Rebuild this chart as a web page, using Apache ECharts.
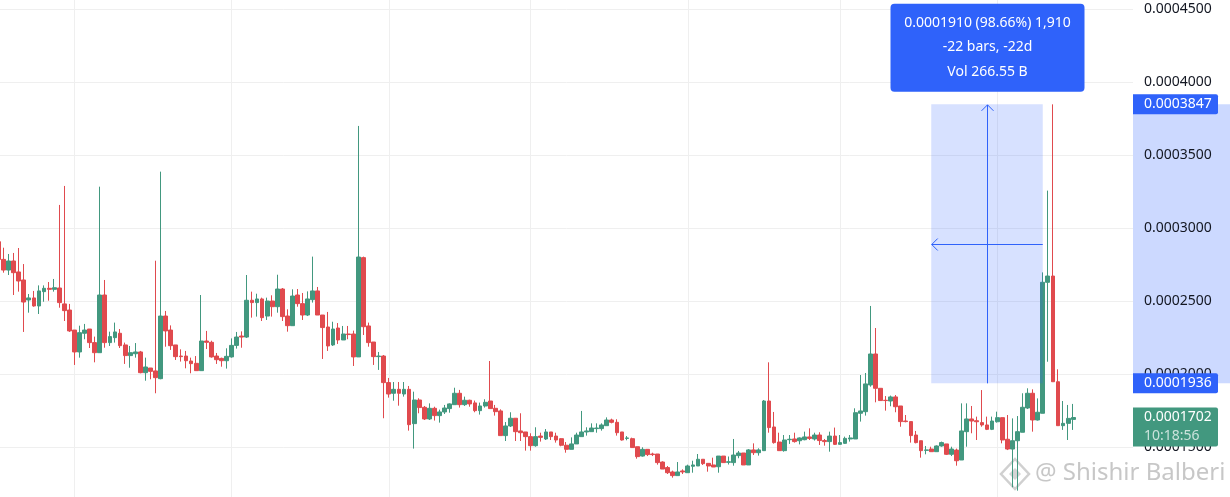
<!DOCTYPE html>
<html>
<head>
<meta charset="utf-8">
<script src="https://cdn.jsdelivr.net/npm/echarts@6/dist/echarts.min.js"></script>
<style>
html,body{margin:0;padding:0;background:#ffffff;}
#chart{width:1230px;height:497px;}
</style>
</head>
<body>
<div id="chart"></div>
<script>
// ---- data (prices in units of 0.0000001) ----
const firstBar = -1; // first (partially visible) daily bar index
const opens = [2906,2785,2712,2774,2699,2644,2507,2521,2466,2564,2587,2580,2589,2480,2438,2301,2151,2279,2308,2215,2146,2541,2215,2249,2279,2199,2126,2139,2151,2009,2041,2021,1968,2397,2301,2199,
2123,2123,2089,2073,2023,2226,2217,2123,2107,2091,2117,2196,2260,2253,2505,2489,2514,2397,2500,2461,2582,2397,2331,2541,2482,2404,2509,2569,2404,2322,2199,2315,2233,2274,2274,2117,2797,
2329,2219,2119,2123,1941,1868,1895,1863,1895,1660,1822,1772,1692,1765,1715,1740,1763,1790,1868,1790,1820,1802,1749,1781,1815,1765,1747,1578,1644,1697,1610,1603,1571,1509,
1575,1555,1603,1575,1557,1512,1484,1521,1571,1603,1605,1626,1626,1646,1685,1669,1603,1559,1557,1502,1438,1484,1452,1452,1397,1359,1329,1304,1336,1324,1368,1370,1416,1388,1377,1365,1438,
1395,1393,1441,1459,1377,1480,1461,1475,1815,1637,1534,1475,1550,1555,1543,1550,1569,1555,1582,1544,1537,1575,1518,1525,1555,1555,1731,1742,1925,2137,1902,1820,1815,1843,1781,1678,1674,
1582,1543,1477,1486,1468,1507,1521,1450,1479,1411,1605,1692,1680,1667,1651,1621,1673,1701,1553,1486,1543,1601,1767,1868,1685,1731,2628,2671,1947,1646,1662,1689];
const closes = [2785,2712,2774,2694,2637,2493,2521,2466,2569,2587,2580,2591,2489,2434,2295,2151,2283,2301,2215,2146,2541,2215,2256,2288,2194,2126,2146,2151,2009,2048,2018,1975,2397,2295,2194,2119,
2119,2091,2071,2023,2226,2217,2117,2098,2091,2121,2196,2253,2253,2505,2489,2514,2386,2500,2461,2582,2393,2331,2534,2482,2404,2514,2569,2404,2318,2192,2308,2233,2274,2270,2117,2801,2324,
2215,2119,2123,1941,1863,1895,1868,1895,1653,1822,1770,1692,1765,1715,1740,1767,1795,1868,1790,1820,1795,1749,1781,1806,1763,1742,1578,1644,1697,1605,1598,1571,1509,1571,
1566,1603,1571,1548,1512,1484,1521,1582,1603,1610,1630,1630,1651,1685,1669,1598,1548,1562,1496,1434,1484,1448,1448,1393,1349,1324,1304,1329,1329,1370,1377,1416,1386,1370,1363,1438,1393,
1399,1445,1459,1377,1480,1461,1480,1815,1633,1530,1475,1548,1553,1537,1562,1569,1559,1582,1544,1537,1575,1518,1530,1559,1562,1735,1747,1932,2137,1902,1818,1818,1843,1776,1674,1674,1578,
1530,1475,1480,1468,1507,1530,1450,1486,1406,1610,1692,1678,1673,1651,1621,1678,1701,1548,1486,1543,1605,1772,1868,1685,1738,2628,2671,1947,1646,1662,1696,1702];
const lows = [2770,2694,2678,2541,2564,2288,2420,2461,2411,2495,2502,2564,2454,2363,2288,2062,2112,2238,2178,2080,2146,2180,2192,2215,2178,2069,2043,2112,2005,1954,1964,1868,1964,2187,2165,2096,
2085,2039,2005,2023,2023,2171,2112,2069,2050,2037,2112,2174,2180,2247,2386,2393,2363,2370,2393,2420,2363,2290,2331,2461,2370,2397,2489,2404,2103,2158,2192,2206,2233,2238,2055,2117,2267,
2187,2062,2028,1697,1838,1817,1783,1845,1612,1489,1731,1685,1685,1681,1667,1726,1735,1790,1770,1781,1776,1738,1722,1770,1763,1715,1578,1541,1637,1541,1541,1475,1475,1502,
1537,1548,1548,1530,1505,1461,1484,1521,1571,1578,1605,1598,1612,1646,1662,1578,1544,1546,1496,1420,1434,1438,1438,1379,1349,1315,1290,1304,1315,1324,1324,1370,1377,1331,1363,1324,1393,
1380,1372,1423,1377,1377,1445,1441,1475,1598,1523,1475,1468,1521,1530,1518,1546,1548,1544,1514,1509,1468,1514,1518,1521,1537,1555,1674,1715,1913,1806,1815,1749,1779,1738,1639,1669,1530,
1525,1427,1450,1468,1468,1502,1445,1438,1372,1411,1502,1594,1548,1639,1616,1616,1667,1525,1479,1224,1201,1601,1760,1605,1681,1731,2084,1947,1646,1617,1548,1617];
const highs = [2930,2865,2822,2829,2863,2753,2548,2569,2607,2607,2630,2651,3158,3288,2480,2301,2331,2343,2308,2256,3283,2644,2290,2352,2308,2215,2192,2212,2158,2112,2041,2776,3386,2432,2333,2199,
2169,2158,2112,2123,2541,2295,2228,2144,2112,2176,2244,2288,2292,2678,2564,2550,2523,2523,2539,2680,2589,2443,2580,2582,2555,2566,2804,2596,2404,2425,2358,2349,2329,2329,2297,3699,2804,
2352,2219,2151,2130,1973,1945,1945,1945,1918,1879,1834,1781,1799,1776,1756,1788,1799,1906,1891,1845,1824,1818,1804,1827,2089,1788,1758,1671,1738,1697,1731,1603,1594,1635,
1598,1623,1603,1598,1560,1534,1566,1598,1747,1635,1662,1662,1662,1703,1694,1690,1603,1575,1564,1502,1498,1484,1461,1452,1402,1370,1338,1397,1347,1379,1406,1452,1416,1388,1427,1438,1438,
1435,1555,1473,1459,1486,1525,1491,1822,2080,1740,1598,1582,1582,1598,1566,1605,1628,1598,1601,1555,1605,1633,1582,1571,1582,1765,1993,2007,2466,2315,1902,1849,1852,1856,1781,1719,1674,
1610,1543,1507,1502,1511,1537,1521,1502,1489,1799,1799,1781,1708,1890,1708,1708,1742,1701,1719,1696,1712,1868,1902,1895,1833,2696,3256,3847,2032,1815,1788,1795];
const PRICE_UNIT = 1e-7;

// month-start bars (vertical grid lines)
const monthStartBars = [14, 45, 76, 104, 135, 165, 196];

// measure tool
const measureFromBar = 183, measureToBar = 205;
const measureHigh = 0.0003847, measureLow = 0.0001936;
const measureText = ['0.0001910 (98.66%) 1,910', '-22 bars, -22d', 'Vol 266.55 B'];

// last price
const lastPrice = 0.0001702;
const countdown = '10:18:56';
const watermark = '@ Shishir Balberi';

// axis range
const xMin = -0.69, xMax = 222.8;
const yMin = 0.0001, yMax = 0.0005, yStep = 0.00005;

const UP = '#42987f', DOWN = '#e04a4e', BLUE = '#2f62fa';
const FONT = 'Noto Sans';

const rows = opens.map((o, k) => [firstBar + k, o * PRICE_UNIT, closes[k] * PRICE_UNIT, lows[k] * PRICE_UNIT, highs[k] * PRICE_UNIT]);

const chart = echarts.init(document.getElementById('chart'), null, {renderer: 'canvas'});
chart.setOption({
  animation: false,
  backgroundColor: '#ffffff',
  textStyle: {fontFamily: FONT},
  grid: {left: 0, right: 97, top: -64, bottom: -23, containLabel: false, outerBoundsMode: 'none'},
  xAxis: {
    type: 'value', min: xMin, max: xMax, show: false,
    splitLine: {show: false}
  },
  yAxis: {
    type: 'value', position: 'right', min: yMin, max: yMax, interval: yStep,
    axisLine: {show: false}, axisTick: {show: false},
    axisLabel: {color: '#131722', fontSize: 14, fontFamily: FONT, margin: 11,
      formatter: v => v.toFixed(7)},
    splitLine: {show: true, lineStyle: {color: '#efefef', width: 1}}
  },
  series: [
    {
      type: 'line', data: [], z: 1, silent: true,
      markLine: {
        silent: true, z: 1, symbol: 'none', label: {show: false},
        lineStyle: {color: '#efefef', width: 1, type: 'solid'},
        emphasis: {disabled: true},
        data: monthStartBars.map(b => ({xAxis: b}))
      }
    },
    {
      type: 'candlestick',
      data: rows,
      barWidth: 4.3,
      z: 2,
      itemStyle: {color: UP, color0: DOWN, borderColor: UP, borderColor0: DOWN, borderWidth: 1},
      emphasis: {disabled: true},
      markArea: {
        silent: true, z: 5,
        itemStyle: {color: 'rgba(41,98,255,0.19)'},
        emphasis: {disabled: true},
        data: [[{coord: [measureFromBar, measureHigh]}, {coord: [measureToBar, measureLow]}]]
      },
      markLine: {
        silent: true, symbol: 'none', label: {show: false},
        emphasis: {disabled: true},
        data: [{yAxis: lastPrice, lineStyle: {color: '#5e9485', width: 1, type: [1.5, 3.5]}}]
      }
    }
  ]
});

function overlay() {
  const toPx = (b, p) => chart.convertToPixel({gridIndex: 0}, [b, p]);
  const pTop = toPx(measureFromBar, measureHigh);
  const pBot = toPx(measureToBar, measureLow);
  const xL = pTop[0], xR = pBot[0], yTop = pTop[1], yBot = pBot[1];
  const cx = Math.round(toPx((measureFromBar + measureToBar) / 2, measureLow)[0]) + 0.5;
  const yMid = Math.round(toPx(0, (measureHigh + measureLow) / 2)[1]) + 0.5;
  const axisX = toPx(xMax, yMin)[0];
  const yLast = toPx(0, lastPrice)[1];
  const W = chart.getWidth();
  const boxW = 194, boxH = 88;
  const boxTop = yTop - 12.5 - boxH;
  const line = {stroke: BLUE, lineWidth: 1, fill: null};
  const els = [
    {type: 'rect', z: -1, silent: true, shape: {x: axisX, y: yTop, width: W - axisX, height: yBot - yTop}, style: {fill: 'rgba(41,98,255,0.24)'}},
    {type: 'line', z: 10, silent: true, shape: {x1: cx, y1: yBot, x2: cx, y2: yTop + 0.5}, style: line},
    {type: 'polyline', z: 10, silent: true, shape: {points: [[cx - 6, yTop + 6.5], [cx, yTop + 0.5], [cx + 6, yTop + 6.5]]}, style: line},
    {type: 'line', z: 10, silent: true, shape: {x1: xR, y1: yMid, x2: xL + 0.5, y2: yMid}, style: line},
    {type: 'polyline', z: 10, silent: true, shape: {points: [[xL + 6.5, yMid - 6], [xL + 0.5, yMid], [xL + 6.5, yMid + 6]]}, style: line},
    {type: 'rect', z: 10, silent: true, shape: {x: cx - boxW / 2, y: boxTop, width: boxW, height: boxH, r: 4}, style: {fill: BLUE}}
  ];
  measureText.forEach((t, k) => {
    els.push({type: 'text', z: 11, silent: true, style: {text: t, x: cx, y: boxTop + 19 + k * 24.5, fill: '#ffffff', fontSize: 14, fontFamily: FONT, align: 'center', verticalAlign: 'middle'}});
  });
  [[measureHigh, BLUE], [measureLow, BLUE]].forEach(([p, c]) => {
    const y = toPx(0, p)[1];
    els.push({type: 'rect', z: 10, silent: true, shape: {x: axisX, y: y - 10, width: 85, height: 20, r: [0, 2, 2, 0]}, style: {fill: c}});
    els.push({type: 'text', z: 11, silent: true, style: {text: p.toFixed(7), x: axisX + 11, y: y, fill: '#ffffff', fontSize: 14, fontFamily: FONT, align: 'left', verticalAlign: 'middle'}});
  });
  els.push({type: 'rect', z: 10, silent: true, shape: {x: axisX, y: yLast - 10, width: 85, height: 39, r: [0, 2, 2, 0]}, style: {fill: UP}});
  els.push({type: 'text', z: 11, silent: true, style: {text: lastPrice.toFixed(7), x: axisX + 11, y: yLast, fill: '#ffffff', fontSize: 14, fontFamily: FONT, align: 'left', verticalAlign: 'middle'}});
  els.push({type: 'text', z: 11, silent: true, style: {text: countdown, x: axisX + 11, y: yLast + 19, fill: 'rgba(255,255,255,0.72)', fontSize: 14, fontFamily: FONT, align: 'left', verticalAlign: 'middle'}});
  const wx = 1015, wy = 474;
  els.push({type: 'polygon', z: 0, silent: true, shape: {points: [[wx, wy - 15], [wx + 14, wy], [wx, wy + 15], [wx - 14, wy]]}, style: {fill: 'none', stroke: 'rgba(170,170,170,0.55)', lineWidth: 2.5}});
  els.push({type: 'polygon', z: 0, silent: true, shape: {points: [[wx, wy - 6], [wx + 6, wy], [wx, wy + 6], [wx - 6, wy]]}, style: {fill: 'rgba(170,170,170,0.5)'}});
  els.push({type: 'text', z: 0, silent: true, style: {text: watermark, x: 1035, y: 473, fill: 'rgba(165,165,165,0.62)', fontSize: 24, fontFamily: FONT, align: 'left', verticalAlign: 'middle'}});
  chart.setOption({graphic: {elements: els}});
}
overlay();
</script>
</body>
</html>
